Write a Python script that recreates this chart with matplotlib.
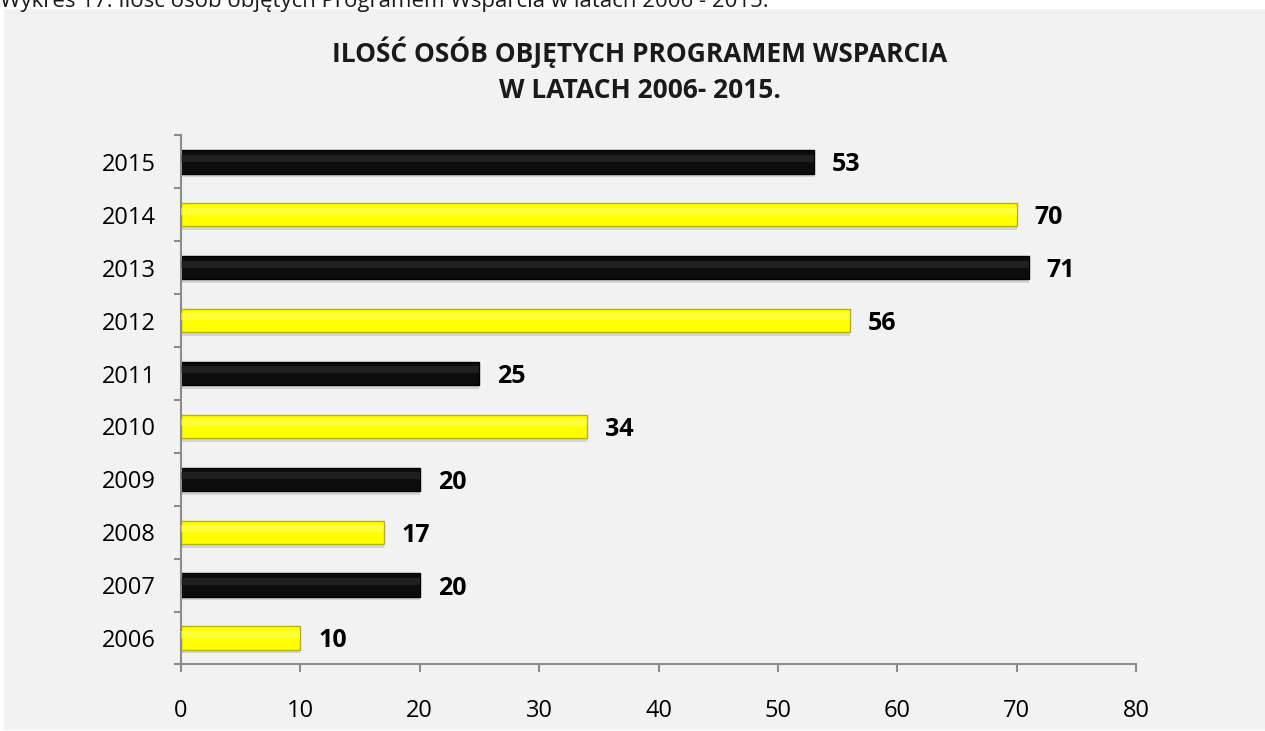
"""Wykres: ilość osób objętych Programem Wsparcia w latach 2006-2015."""

import matplotlib

matplotlib.use("Agg")
import matplotlib.pyplot as plt  # noqa: E402
from matplotlib.patches import Rectangle  # noqa: E402
import numpy as np  # noqa: E402

plt.rcParams["font.family"] = ["Open Sans", "DejaVu Sans"]

# dane
lata = ["2006", "2007", "2008", "2009", "2010", "2011", "2012", "2013", "2014", "2015"]
osoby = [10, 20, 17, 20, 34, 25, 56, 71, 70, 53]
xticks = [0, 10, 20, 30, 40, 50, 60, 70, 80]

podpis = "Wykres 17: Ilość osób objętych Programem Wsparcia w latach 2006 - 2015."
tytul_1 = "ILOŚĆ OSÓB OBJĘTYCH PROGRAMEM WSPARCIA"
tytul_2 = "W LATACH 2006- 2015."

kolory = ["#ffff00" if i % 2 == 0 else "#0d0d0d" for i in range(len(lata))]
krawedzie = ["#b5b500" if i % 2 == 0 else "#000000" for i in range(len(lata))]
blaski = ["#ffff70" if i % 2 == 0 else "#333333" for i in range(len(lata))]

fig = plt.figure(figsize=(12.65, 7.31), dpi=100)
fig.patch.set_facecolor("white")
tlo = Rectangle((4 / 1265, 1 / 731), 1 - 4 / 1265, 1 - 10 / 731,
                transform=fig.transFigure, facecolor="#f2f2f2",
                edgecolor="none")
tlo.set_zorder(-10)
fig.patches.append(tlo)

fig.text(0.0, 1 - 7 / 731, podpis, ha="left", va="baseline", fontsize=16,
         color="#1a1a1a")

ax = fig.add_axes([181 / 1265, 1 - 664.4 / 731, 955 / 1265, 528.9 / 731])
ax.set_facecolor("none")

y = np.arange(len(lata))
h = 0.44
# cień pod słupkami
ax.barh(y - 0.07, osoby, height=h, color="#c8c8c8", alpha=0.7, lw=0, zorder=1)
ax.barh(y, osoby, height=h, color=kolory, edgecolor=krawedzie, lw=1.0, zorder=2)
# połysk w górnej części słupka
ax.barh(y + 0.07, osoby, height=h * 0.3, color=blaski, alpha=0.5, lw=0, zorder=3)

for yi, v in zip(y, osoby):
    ax.text(v + 1.5, yi, str(v), va="center_baseline", ha="left", fontsize=18,
            fontweight="bold", color="black")

ax.set_xlim(0, 80)
ax.set_ylim(-0.5, len(lata) - 0.5)
ax.set_xticks(xticks)
ax.set_yticks(y)
ax.set_yticklabels(lata)
ax.set_yticks(np.arange(-0.5, len(lata), 1.0), minor=True)

for s in ("top", "right"):
    ax.spines[s].set_visible(False)
for s in ("left", "bottom"):
    ax.spines[s].set_color("#8c8c8c")
    ax.spines[s].set_linewidth(1.5)

ax.tick_params(axis="x", direction="out", length=6, width=1.5, color="#8c8c8c",
               labelsize=17, pad=19)
ax.tick_params(axis="y", which="major", length=0, labelsize=17, pad=18)
ax.tick_params(axis="y", which="minor", direction="out", length=5, width=1.5,
               color="#8c8c8c")

fig.text(640 / 1265, 1 - 52 / 731, tytul_1, ha="center", va="center",
         fontsize=19, fontweight="bold", color="#1a1a1a")
fig.text(640 / 1265, 1 - 90 / 731, tytul_2, ha="center", va="center",
         fontsize=19, fontweight="bold", color="#1a1a1a")

fig.savefig("out.png", dpi=100, facecolor=fig.get_facecolor())
